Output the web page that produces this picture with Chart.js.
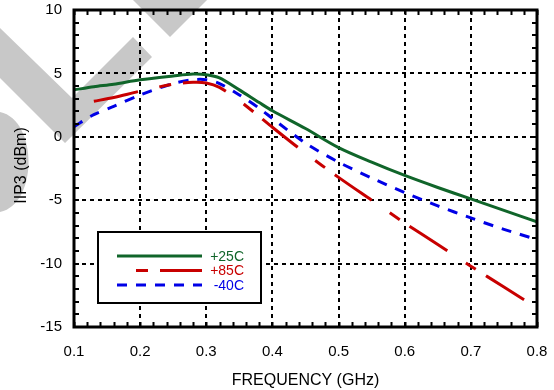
<!DOCTYPE html>
<html>
<head>
<meta charset="utf-8">
<script src="https://cdn.jsdelivr.net/npm/chart.js@4"></script>
<style>
  html, body { margin: 0; padding: 0; background: #fff; }
  #wrap { width: 554px; height: 390px; }
</style>
</head>
<body>
<div id="wrap"><canvas id="iip3Chart"></canvas></div>
<script>
// Frequency points (GHz) and IIP3 readings (dBm) per temperature
const freq = [0.1, 0.13, 0.16, 0.2, 0.25, 0.28, 0.3, 0.32, 0.35, 0.38, 0.4, 0.45, 0.5, 0.55, 0.6, 0.65, 0.7, 0.75, 0.8];
const iip3Plus25 = [3.7, 3.95, 4.15, 4.5, 4.8, 4.95, 4.9, 4.65, 3.7, 2.7, 2.05, 0.65, -0.85, -2.0, -3.05, -4.0, -4.9, -5.8, -6.7];
const iip3Plus85 = [null, 2.8, 3.1, 3.6, 4.15, 4.3, 4.25, 3.9, 2.85, 1.6, 0.75, -1.3, -3.2, -5.0, -6.8, -8.5, -10.2, -11.85, -13.5];
const iip3Minus40 = [0.8, 1.75, 2.4, 3.3, 4.2, 4.5, 4.5, 4.2, 3.3, 2.25, 1.45, -0.5, -2.0, -3.25, -4.4, -5.45, -6.4, -7.3, -8.1];
const seriesLabels = ["+25C", "+85C", "-40C"];
const xTicks = [0.1, 0.2, 0.3, 0.4, 0.5, 0.6, 0.7, 0.8];
const yTicks = [-15, -10, -5, 0, 5, 10];
const yTitle = "IIP3 (dBm)";

const FONT = "'Liberation Sans', Arial, sans-serif";

function toPoints(values) {
  return freq.map((f, i) => ({ x: f, y: values[i] }));
}

// White background plus the grey watermark strokes behind the plot
const backgroundPlugin = {
  id: "background",
  beforeDraw(chart) {
    const ctx = chart.ctx;
    ctx.save();
    ctx.fillStyle = "#fff";
    ctx.fillRect(0, 0, chart.width, chart.height);
    ctx.fillStyle = "#c8c8c8";
    ctx.beginPath();
    // top "V" tip
    ctx.moveTo(133, 0);
    ctx.lineTo(207, 0);
    ctx.lineTo(170, 37);
    ctx.closePath();
    // big "V"
    ctx.moveTo(0, 28);
    ctx.lineTo(72, 98);
    ctx.lineTo(133, 37);
    ctx.lineTo(152, 57);
    ctx.lineTo(65, 143);
    ctx.lineTo(0, 78);
    ctx.closePath();
    ctx.fill();
    ctx.restore();
  },
  // round watermark piece on the left edge, with the y title written over it
  afterDraw(chart) {
    const ctx = chart.ctx;
    const { top, bottom } = chart.chartArea;
    ctx.save();
    ctx.fillStyle = "#c8c8c8";
    ctx.beginPath();
    ctx.moveTo(0, 112);
    ctx.bezierCurveTo(38, 120, 38, 204, 0, 212);
    ctx.closePath();
    ctx.fill();
    ctx.translate(22, (top + bottom) / 2 - 3);
    ctx.rotate(-Math.PI / 2);
    ctx.fillStyle = "#000";
    ctx.font = "16px " + FONT;
    ctx.textAlign = "center";
    ctx.textBaseline = "middle";
    ctx.fillText(yTitle, 0, 0);
    ctx.restore();
  },
};

// Frame, inward minor ticks and the boxed legend
const framePlugin = {
  id: "frame",
  afterDatasetsDraw(chart) {
    const ctx = chart.ctx;
    const { left, right, top, bottom } = chart.chartArea;
    const xs = chart.scales.x;
    const ys = chart.scales.y;
    ctx.save();
    ctx.strokeStyle = "#000";
    ctx.lineWidth = 2;
    ctx.beginPath();
    for (let i = 0; i <= 35; i++) {
      const px = Math.round(xs.getPixelForValue(0.1 + i * 0.02)) + 0.5;
      ctx.moveTo(px, bottom);
      ctx.lineTo(px, bottom - 5);
      ctx.moveTo(px, top);
      ctx.lineTo(px, top + 5);
    }
    for (let v = -15; v <= 10; v++) {
      const py = Math.round(ys.getPixelForValue(v));
      ctx.moveTo(left, py);
      ctx.lineTo(left + 5, py);
      ctx.moveTo(right, py);
      ctx.lineTo(right - 5, py);
    }
    ctx.stroke();

    ctx.lineWidth = 3;
    ctx.strokeRect(left, top, right - left, bottom - top);

    // legend box
    const bx = left + 24, by = top + 222, bw = 163, bh = 71;
    ctx.fillStyle = "#fff";
    ctx.fillRect(bx, by, bw, bh);
    ctx.lineWidth = 2;
    ctx.strokeRect(bx, by, bw, bh);

    const legendOffsets = [0, 48, 0];
    chart.data.datasets.forEach((ds, i) => {
      const ly = by + 24 + i * 14.5;
      ctx.strokeStyle = ds.borderColor;
      ctx.lineWidth = ds.borderWidth;
      ctx.setLineDash(ds.borderDash || []);
      ctx.lineDashOffset = legendOffsets[i];
      ctx.beginPath();
      ctx.moveTo(bx + 19, ly);
      ctx.lineTo(bx + 104, ly);
      ctx.stroke();
      ctx.setLineDash([]);
      ctx.fillStyle = ds.borderColor;
      ctx.font = "14px " + FONT;
      ctx.textAlign = "right";
      ctx.textBaseline = "middle";
      ctx.fillText(ds.label, bx + 146, ly + 1);
    });
    ctx.restore();
  },
};

new Chart(document.getElementById("iip3Chart"), {
  type: "line",
  data: {
    datasets: [
      {
        label: seriesLabels[0],
        data: toPoints(iip3Plus25),
        borderColor: "#10652a",
        borderWidth: 3,
      },
      {
        label: seriesLabels[1],
        data: toPoints(iip3Plus85),
        borderColor: "#c80000",
        borderWidth: 3,
        borderDash: [45, 22, 12, 12],
      },
      {
        label: seriesLabels[2],
        data: toPoints(iip3Minus40),
        borderColor: "#0000e6",
        borderWidth: 3,
        borderDash: [10, 9],
      },
    ],
  },
  options: {
    responsive: true,
    maintainAspectRatio: false,
    animation: false,
    spanGaps: false,
    elements: {
      point: { radius: 0 },
      line: { tension: 0.3, fill: false },
    },
    layout: { padding: { top: 10, right: 17, left: 0, bottom: 0 } },
    plugins: {
      legend: { display: false },
      tooltip: { enabled: false },
    },
    scales: {
      x: {
        type: "linear",
        min: xTicks[0],
        max: xTicks[xTicks.length - 1],
        afterBuildTicks: (s) => { s.ticks = xTicks.map((v) => ({ value: v })); },
        afterFit: (s) => { s.height = 63; s.paddingLeft = 0; s.paddingRight = 0; },
        ticks: {
          color: "#000",
          padding: 16,
          font: { family: FONT, size: 15 },
          callback: (v) => Number(v).toFixed(1),
        },
        grid: { color: "#000", lineWidth: 2, drawTicks: false },
        border: { display: false, dash: [4, 4] },
        title: {
          display: true,
          text: "FREQUENCY (GHz)",
          color: "#000",
          font: { family: FONT, size: 16 },
          padding: { top: 0, bottom: 0 },
        },
      },
      y: {
        min: yTicks[0],
        max: yTicks[yTicks.length - 1],
        afterBuildTicks: (s) => { s.ticks = yTicks.map((v) => ({ value: v })); },
        afterFit: (s) => { s.width = 74; s.paddingTop = 0; s.paddingBottom = 0; },
        ticks: {
          color: "#000",
          padding: 12,
          font: { family: FONT, size: 15 },
        },
        grid: { color: "#000", lineWidth: 2, drawTicks: false },
        border: { display: false, dash: [4, 4] },
      },
    },
  },
  plugins: [backgroundPlugin, framePlugin],
});
</script>
</body>
</html>
